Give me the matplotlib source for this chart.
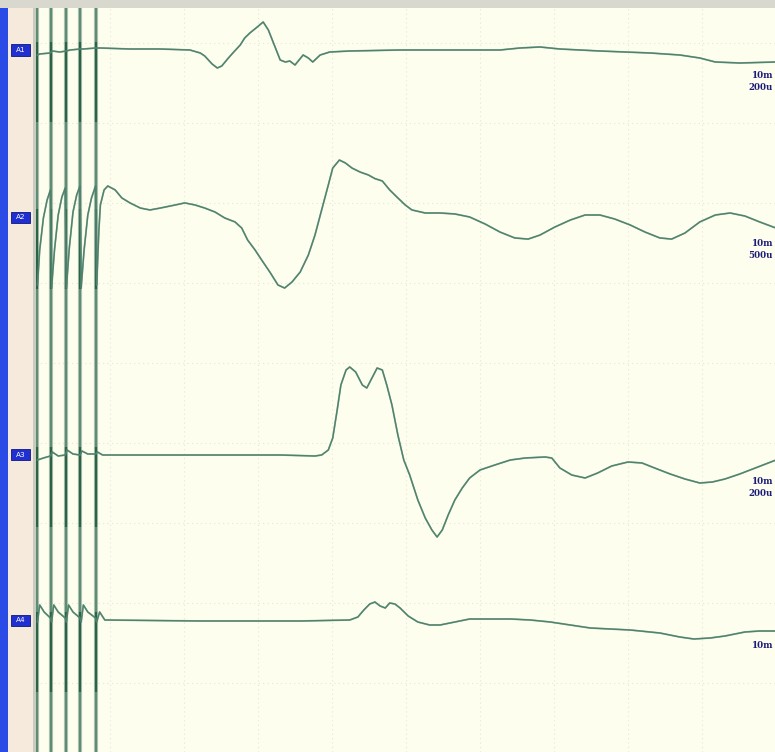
import matplotlib
matplotlib.use("Agg")
import matplotlib.pyplot as plt
from matplotlib.patches import Rectangle
import numpy as np

# ---- recording data ----
channels = ["A1", "A2", "A3", "A4"]
sweep_label = "10m"
sensitivity_uv = [200, 500, 200, 200]          # µV per division
sens_labels = ["200u", "500u", "200u", None]
baseline_div = [0.0875, 2.175, 5.15, 7.2125]   # trace baseline position (divisions from top grid line)
stim_ms = [0.1, 2.0, 4.0, 6.0, 8.1]            # stimulus train

a1_t = [0.2, 0.5, 1.9, 2.2, 3.2, 4.1, 4.6, 6.0, 6.4, 8.1, 8.7, 12.7, 16.8, 20.8, 22.2, 22.8, 23.8,
        24.5, 25.1, 26.0, 26.6, 27.6, 28.2, 28.9, 29.9, 30.7, 31.4, 32.2, 33.0, 33.7, 34.3, 35.0,
        36.1, 36.8, 37.4, 38.4, 39.7, 42.4, 49.2, 56.0, 62.7, 65.4, 68.1, 70.8, 76.2, 83.0, 87.0,
        89.7, 91.8, 95.1, 100.0]
a1_uv = [-12.5, -10, -7.5, -2.5, -5, -2.5, 0, 2.5, 2.5, 5, 5, 2.5, 2.5, 0, -7.5, -15, -35,
         -45, -40, -20, -7.5, 12.5, 30, 42.5, 57.5, 70, 50, 12.5, -25, -30, -27.5, -37.5,
         -12.5, -20, -30, -12.5, -5, -2.5, 0, 0, 0, 5, 7.5, 2.5, -2.5, -7.5, -12.5,
         -20, -30, -32.5, -30]

a2_t = [0.2, 0.5, 1.0, 1.5, 1.95,
        2.1, 2.5, 3.0, 3.5, 3.95,
        4.1, 4.5, 5.0, 5.5, 5.95,
        6.1, 6.5, 7.0, 7.5, 8.05,
        8.2, 8.5, 8.7, 9.2, 9.7, 10.7, 11.6, 12.7, 14.1, 15.4, 16.8, 18.8, 20.1, 21.5, 22.8,
        24.2, 25.5, 26.9, 27.8, 28.6, 29.6, 30.5, 31.6, 32.7, 33.6, 34.6, 35.7, 36.8, 37.7,
        38.6, 39.5, 40.1, 41.0, 41.8, 42.7, 43.8, 44.9, 45.8, 46.8, 47.8, 48.9, 49.9, 50.8,
        52.6, 54.6, 56.6, 58.6, 60.7, 62.7, 64.7, 66.5, 68.1, 70.1, 72.2, 74.2, 76.2, 78.2,
        80.3, 82.3, 84.3, 85.9, 87.7, 89.7, 91.8, 93.8, 95.8, 97.8, 100.0]
a2_uv = [-425, -206, -6, 106, 169,
         -444, -206, 12.5, 125, 181,
         -444, -194, 31, 138, 194,
         -444, -206, 12.5, 119, 194,
         -425, -81, 75, 169, 194, 169, 119, 88, 56, 44, 56, 75, 88, 75, 56,
         31, -6, -31, -69, -144, -206, -269, -344, -425, -444, -406, -344, -238, -113,
         44, 200, 306, 356, 338, 306, 281, 263, 240, 225, 169, 119, 75, 44,
         25, 25, 19, 0, -44, -94, -131, -138, -113, -63, -19, 12.5, 12.5, -12.5,
         -50, -94, -131, -138, -100, -31, 12.5, 25, 6, -31, -69]

a3_t = [0.2, 1.0, 1.95, 2.2, 3.0, 3.95, 4.2, 5.0, 5.95, 6.2, 7.0, 8.05, 8.3, 9.0, 22.2, 33.0,
        37.7, 38.6, 39.5, 40.1, 40.7, 41.2, 41.9, 42.4, 43.2, 44.1, 44.7, 45.4, 46.1, 46.8,
        47.4, 48.1, 48.9, 49.7, 50.5, 51.6, 52.6, 53.5, 54.2, 54.9, 55.7, 56.6, 57.6, 58.6,
        60.0, 62.0, 64.1, 66.1, 68.8, 69.7, 70.8, 72.4, 74.2, 75.9, 77.8, 80.0, 81.9, 83.6,
        85.7, 87.7, 89.7, 91.4, 93.1, 95.1, 97.2, 100.0]
a3_uv = [-12.5, -7.5, -2.5, 7.5, -2.5, 0, 12.5, 2.5, 0, 10, 2.5, 2.5, 7.5, 0, 0, 0,
         -2.5, 0, 12.5, 42.5, 112.5, 175, 212.5, 220, 207.5, 175, 167.5, 192.5, 217.5, 212.5,
         175, 125, 50, -12.5, -50, -112.5, -157.5, -187.5, -205, -187.5, -150, -112.5, -82.5, -57.5,
         -37.5, -25, -12.5, -7.5, -5, -7.5, -32.5, -50, -57.5, -45, -27.5, -17.5, -20, -32.5,
         -47.5, -60, -70, -67.5, -60, -47.5, -32.5, -12.5]

a4_t = [0.2, 0.5, 1.1, 1.95, 2.1, 2.4, 3.0, 3.95, 4.1, 4.4, 5.0, 5.95, 6.1, 6.4, 7.0, 8.05,
        8.2, 8.6, 9.3, 22.2, 35.7, 42.4, 43.5, 44.3, 45.1, 45.8, 46.5, 47.2, 47.8, 48.5, 49.2,
        50.3, 51.6, 53.2, 54.6, 56.6, 58.6, 61.4, 64.1, 66.8, 69.5, 72.2, 74.9, 77.6, 80.3,
        84.3, 87.0, 88.9, 91.1, 93.1, 95.8, 97.8, 100.0]
a4_uv = [-5, 37.5, 20, 5, -5, 37.5, 20, 5, -5, 37.5, 20, 5, -5, 37.5, 20, 5,
         -5, 20, 0, -2.5, -2.5, 0, 7.5, 25, 40, 45, 35, 30, 42.5, 40, 30,
         10, -5, -12.5, -12.5, -5, 2.5, 2.5, 2.5, 0, -5, -12.5, -20, -22.5, -25,
         -32.5, -42.5, -47.5, -45, -40, -30, -27.5, -27.5]

traces = [(a1_t, a1_uv), (a2_t, a2_uv), (a3_t, a3_uv), (a4_t, a4_uv)]

# ---- figure layout (pixel based) ----
W, H = 775, 752
fig = plt.figure(figsize=(W / 100, H / 100), dpi=100)
fig.patch.set_facecolor("#fbfcec")

ax_left, ax_top = 36, 8
ax = fig.add_axes([ax_left / W, 0, (W - ax_left) / W, (H - ax_top) / H])
ax.set_facecolor("#fdfeee")

px_per_ms = 7.4
px_per_div = 80.0
ax.set_xlim(0, (W - ax_left) / px_per_ms)
ax.set_ylim((H - 43) / px_per_div, (ax_top - 43) / px_per_div)

# faint dotted grid
for gx in np.arange(10, 100, 10):
    ax.axvline(gx, color="#e6e8d6", lw=0.8, ls=(0, (1, 3)), zorder=1)
for gy in range(0, 9):
    ax.axhline(gy, color="#e6e8d6", lw=0.8, ls=(0, (1, 3)), zorder=1)

# stimulus artefacts: saturated full-height spikes
for s in stim_ms:
    ax.axvline(s, color="#adbfb1", lw=3.0, zorder=2)
    ax.axvline(s, color="#46805f", lw=1.1, zorder=3)
    for b in baseline_div:
        ax.plot([s, s], [b - 0.1, b + 0.9], color="#2a6445", lw=1.6, zorder=3,
                solid_capstyle="butt")

# traces
for (t, uv), b, sens in zip(traces, baseline_div, sensitivity_uv):
    y = b - np.asarray(uv, dtype=float) / sens
    ax.plot(t, y, color="#55877299", lw=1.3, zorder=4, solid_joinstyle="round")
    ax.plot(t, y, color="#4f826d", lw=1.0, zorder=4, solid_joinstyle="round")

ax.set_xticks([])
ax.set_yticks([])
for sp in ax.spines.values():
    sp.set_visible(False)

# left margin, channel strip and top bar
fig.patches.append(Rectangle((0, 0), 8 / W, 1, transform=fig.transFigure,
                             facecolor="#2b4be6", edgecolor="none", zorder=0))
fig.patches.append(Rectangle((8 / W, 0), 25 / W, 1, transform=fig.transFigure,
                             facecolor="#f6eadc", edgecolor="none", zorder=0))
fig.patches.append(Rectangle((33 / W, 0), 3 / W, 1, transform=fig.transFigure,
                             facecolor="#c9cbc0", edgecolor="none", zorder=0))
fig.patches.append(Rectangle((0, 1 - 8 / H), 1, 8 / H, transform=fig.transFigure,
                             facecolor="#d8d8cf", edgecolor="none", zorder=0))


def fy(py):
    return 1 - py / H


for name, b in zip(channels, baseline_div):
    py = 43 + b * px_per_div
    fig.patches.append(Rectangle((11 / W, fy(py + 5.5)), 19 / W, 11 / H,
                                 transform=fig.transFigure, facecolor="#1f2fd0",
                                 edgecolor="#0d1680", lw=0.6, zorder=5))
    fig.text(20.5 / W, fy(py), name, color="white", fontsize=5.2, ha="center",
             va="center", family="DejaVu Sans", zorder=6)

for b, lab in zip(baseline_div, sens_labels):
    py = 43 + b * px_per_div
    fig.text(773 / W, fy(py + 26), sweep_label, color="#1c1c7a", fontsize=6.3,
             ha="right", va="center", family="DejaVu Serif", weight="bold")
    if lab:
        fig.text(773 / W, fy(py + 38), lab, color="#1c1c7a", fontsize=6.3,
                 ha="right", va="center", family="DejaVu Serif", weight="bold")

fig.savefig("out.png", dpi=100, facecolor=fig.get_facecolor())
